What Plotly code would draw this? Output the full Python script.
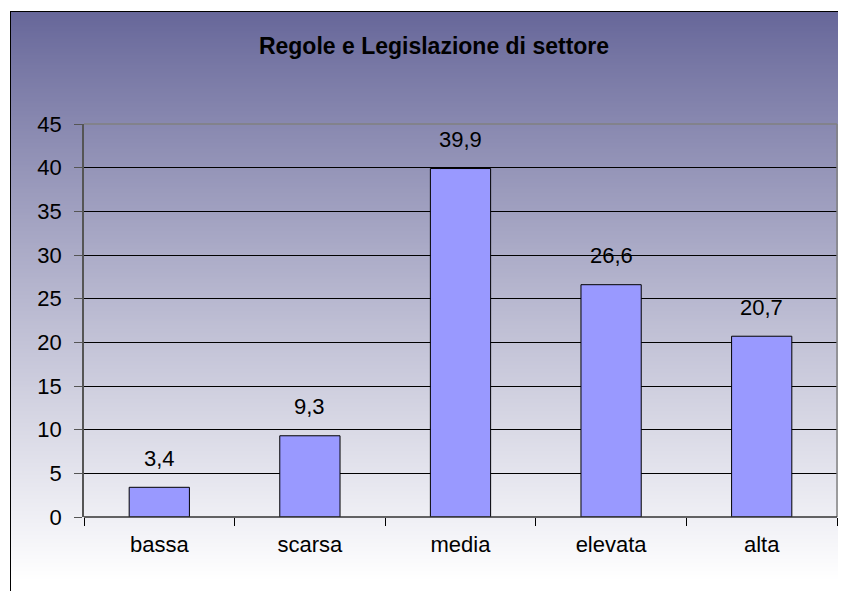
import plotly.graph_objects as go

categories = ["bassa", "scarsa", "media", "elevata", "alta"]
values = [3.4, 9.3, 39.9, 26.6, 20.7]
y_ticks = [0, 5, 10, 15, 20, 25, 30, 35, 40, 45]
title_text = "Regole e Legislazione di settore"

# the page body has an 8px margin; figure pixel = reference pixel - OFF
OFF = 8
W, H = 846 - OFF, 591 - OFF
L, R, T = 84 - OFF, 9, 124 - OFF
B = H - (517 - OFF)
pw, ph = W - L - R, H - T - B

def px_x(x):  # reference pixel -> paper x
    return (x - OFF - L) / pw

def px_y(y):  # reference pixel -> paper y
    return (H - B - (y - OFF)) / ph

FONT = "Liberation Sans, Arial, sans-serif"
FS = 22

fig = go.Figure()
fig.add_trace(go.Bar(
    x=categories, y=values,
    marker=dict(color="#9999FF", line=dict(color="#000000", width=1)),
    width=0.4, hoverinfo="x+y",
))

shapes = []
# gradient background stripes
top_px, bot_px = 11, 600
step = 2
c0 = (102, 102, 153)
c1 = (255, 255, 255)
y = top_px
while y < bot_px:
    t = (y - top_px) / (580 - top_px)
    t = min(1.0, max(0.0, t))
    t = t ** 0.92
    col = tuple(round(a + (b - a) * t) for a, b in zip(c0, c1))
    shapes.append(dict(type="rect", xref="paper", yref="paper",
                       x0=px_x(10), x1=px_x(860), y0=px_y(y + step + 0.5), y1=px_y(y),
                       fillcolor="rgb(%d,%d,%d)" % col, line=dict(width=0), layer="below"))
    y += step

# chart border (left and top)
shapes.append(dict(type="line", xref="paper", yref="paper",
                   x0=px_x(10.5), x1=px_x(10.5), y0=px_y(11), y1=px_y(600),
                   line=dict(color="#000000", width=1), layer="above"))
shapes.append(dict(type="line", xref="paper", yref="paper",
                   x0=px_x(10), x1=px_x(860), y0=px_y(11.5), y1=px_y(11.5),
                   line=dict(color="#000000", width=1), layer="above"))
# plot area top and right borders (gray)
shapes.append(dict(type="line", xref="paper", yref="paper",
                   x0=0, x1=1, y0=1, y1=1,
                   line=dict(color="#808080", width=1.5), layer="above"))
shapes.append(dict(type="line", xref="paper", yref="paper",
                   x0=1, x1=1, y0=0, y1=1,
                   line=dict(color="#808080", width=1.5), layer="above"))
# bottom axis line
shapes.append(dict(type="line", xref="paper", yref="paper",
                   x0=0, x1=1, y0=0, y1=0,
                   line=dict(color="#333333", width=1.5), layer="above"))

annotations = []
for c, v in zip(categories, values):
    annotations.append(dict(x=c, y=v, xref="x", yref="y",
                            text=("%.1f" % v).replace(".", ","),
                            showarrow=False, yanchor="middle", yshift=29,
                            font=dict(family=FONT, size=FS, color="#000000")))

fig.update_layout(
    width=W, height=H,
    margin=dict(l=L, r=R, t=T, b=B),
    paper_bgcolor="rgba(255,255,255,0)",
    plot_bgcolor="rgba(0,0,0,0)",
    showlegend=False,
    bargap=0.6,
    shapes=shapes,
    annotations=annotations,
    title=dict(text="<b>%s</b>" % title_text, x=(434 - OFF) / W, xanchor="center",
               y=1 - (46 - OFF) / H, yanchor="middle",
               font=dict(family=FONT, size=23, color="#000000")),
    font=dict(family=FONT, size=FS, color="#000000"),
)
fig.update_yaxes(
    range=[0, 45], tickvals=y_ticks, ticktext=[str(v) for v in y_ticks],
    showgrid=True, gridcolor="#000000", gridwidth=1,
    zeroline=False,
    showline=True, linecolor="#555555", linewidth=1.5,
    ticks="outside", ticklen=8, tickcolor="#555555", tickwidth=1,
    ticklabelstandoff=8,
    tickfont=dict(family=FONT, size=FS, color="#000000"),
    fixedrange=True,
)
fig.update_xaxes(
    showgrid=False, showline=False, zeroline=False,
    ticks="outside", ticklen=8, tickcolor="#000000", tickwidth=1,
    tickson="boundaries",
    ticklabelstandoff=12,
    tickfont=dict(family=FONT, size=FS, color="#000000"),
    fixedrange=True,
)

fig.write_html("out.html")
